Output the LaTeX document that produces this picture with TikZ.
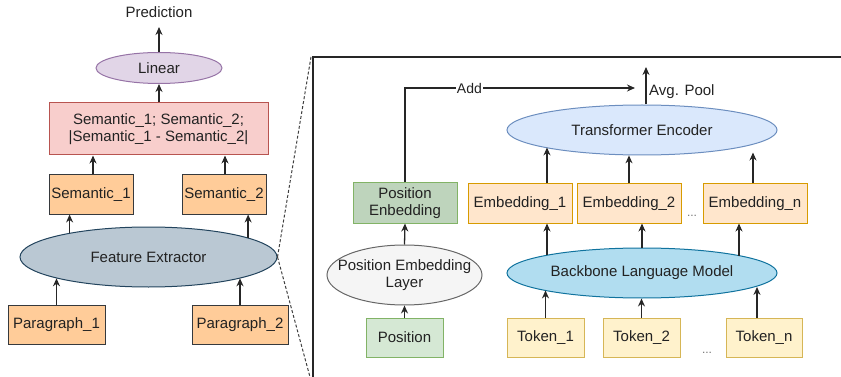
\documentclass[tikz,border=0pt]{standalone}
\usepackage{fontspec}
\setmainfont{Liberation Sans}
\usetikzlibrary{shapes.geometric,arrows.meta}
\definecolor{linF}{HTML}{E1D5E7}\definecolor{linD}{HTML}{9673A6}
\definecolor{semF}{HTML}{F8CECC}\definecolor{semD}{HTML}{B85450}
\definecolor{orF}{HTML}{FFCC99}\definecolor{orD}{HTML}{36393D}
\definecolor{feF}{HTML}{BAC8D3}\definecolor{feD}{HTML}{23445D}
\definecolor{gF}{HTML}{D5E8D4}\definecolor{gD}{HTML}{82B366}
\definecolor{gdF}{RGB}{190,212,188}
\definecolor{pelF}{HTML}{F5F5F5}\definecolor{pelD}{HTML}{666666}
\definecolor{teF}{HTML}{DAE8FC}\definecolor{teD}{HTML}{6C8EBF}
\definecolor{blmF}{HTML}{B1DDF0}\definecolor{blmD}{HTML}{10739E}
\definecolor{emF}{HTML}{FFE6CC}\definecolor{emD}{HTML}{D79B00}
\definecolor{tkF}{HTML}{FFF2CC}\definecolor{tkD}{HTML}{D6B656}
\definecolor{txt}{HTML}{222222}
\begin{document}
\begin{tikzpicture}[x=1pt,y=-1pt,
  every node/.style={font=\fontsize{15}{17}\selectfont, text=txt},
  box/.style={draw, rectangle, line width=1pt, inner sep=0pt, align=center},
  ell/.style={draw, ellipse, line width=1pt, inner sep=0pt, align=center},
  arr/.style={-{Stealth[length=8pt,width=7pt]}, line width=1.3pt, draw=black!85},
  dots/.style={font=\fontsize{12}{14}\selectfont, text=black!55, anchor=base, inner sep=0pt}]
\useasboundingbox (0,0) rectangle (841,377);

% ---------- left part ----------
\node[anchor=base, inner sep=0pt] (pred) at (159,18) {Prediction};
\node[ell, fill=linF, draw=linD, minimum width=126pt, minimum height=31pt] (lin) at (159,68) {Linear};
\node[box, fill=semF, draw=semD, minimum width=219pt, minimum height=52pt] (sem) at (158.5,129)
  {Semantic\_1; Semantic\_2;\\|Semantic\_1 - Semantic\_2|};
\node[box, fill=orF, draw=orD, minimum width=84pt, minimum height=39pt] (s1) at (91,194.5) {Semantic\_1};
\node[box, fill=orF, draw=orD, minimum width=84pt, minimum height=39pt] (s2) at (224,194.5) {Semantic\_2};
\node[ell, fill=feF, draw=feD, minimum width=257pt, minimum height=60pt] (fe) at (148.5,257) {Feature Extractor};
\node[box, fill=orF, draw=orD, minimum width=97pt, minimum height=39pt] (p1) at (56.5,324.5) {Paragraph\_1};
\node[box, fill=orF, draw=orD, minimum width=96pt, minimum height=39pt] (p2) at (240,324.5) {Paragraph\_2};

\draw[arr] (lin.north) -- ([yshift=-9pt]pred.base);
\draw[arr] (lin.south |- sem.north) -- (lin.south);
\draw[arr] ([xshift=2pt]s1.north) -- ([xshift=2pt]s1.north |- sem.south);
\draw[arr] ([xshift=1pt]s2.north) -- ([xshift=1pt]s2.north |- sem.south);
\draw[arr] (fe.163) -- (fe.163 |- s1.south);
\draw[arr] (fe.11.6) -- (fe.11.6 |- s2.south);
\draw[arr] (p1.north) -- (p1.north |- fe.193);
\draw[arr] (p2.north) -- (p2.north |- fe.347);

% zoom lines
\coordinate (zt) at (311,57);
\coordinate (zb) at (310,377);
\draw[dash pattern=on 3pt off 2pt, line width=1pt, black!75] (fe.east) -- (zt);
\draw[dash pattern=on 3pt off 2pt, line width=1pt, black!75] (fe.east) -- (zb);

% frame
\draw[line width=2.5pt, black!85] (841,57) -- (313,57) -- (313,377);

% ---------- right part ----------
\node[box, fill=gF, draw=gD, minimum width=77pt, minimum height=39pt] (pos) at (404.5,337.5) {Position};
\node[ell, fill=pelF, draw=pelD, inner xsep=-16pt, minimum width=155pt, minimum height=60pt] (pel) at (404.5,275) {Position Embedding\\Layer};
\node[box, fill=gdF, draw=gD, minimum width=104pt, minimum height=40pt] (pe) at (405,203) {Position\\Enbedding};

\node[ell, fill=teF, draw=teD, minimum width=270pt, minimum height=50pt] (te) at (642,130) {Transformer Encoder};
\node[box, fill=emF, draw=emD, minimum width=104pt, minimum height=39pt] (e1) at (520,203.5) {Embedding\_1};
\node[box, fill=emF, draw=emD, minimum width=104pt, minimum height=39pt] (e2) at (629,203.5) {Embedding\_2};
\node[box, fill=emF, draw=emD, minimum width=104pt, minimum height=39pt] (en) at (755,203.5) {Embedding\_n};
\node[ell, fill=blmF, draw=blmD, minimum width=270pt, minimum height=50pt] (blm) at (642,273) {Backbone Language Model};
\node[box, fill=tkF, draw=tkD, minimum width=77pt, minimum height=39pt] (t1) at (545.5,337.5) {Token\_1};
\node[box, fill=tkF, draw=tkD, minimum width=77pt, minimum height=39pt] (t2) at (641.5,337.5) {Token\_2};
\node[box, fill=tkF, draw=tkD, minimum width=76pt, minimum height=39pt] (tn) at (764,337.5) {Token\_n};

\node[dots] (d1) at (692,216) {...};
\node[dots] (d2) at (707,353) {...};

\draw[arr] (pos.north) -- (pel.south);
\draw[arr] (pel.north) -- (pe.south);

\coordinate (addend) at (635,88);
\draw[arr] (pe.north) |- node[pos=0.64, fill=white, inner sep=1pt, font=\fontsize{14}{16}\selectfont] {Add} (addend);

\coordinate (avg) at (646,67);
\draw[arr] (avg |- te.north) -- (avg);
\node[anchor=west, inner sep=0pt] (avgl) at (649,92) {Avg. Pool};

\draw[arr] ([xshift=27pt]e1.north) -- ([xshift=27pt]e1.north |- te.190.6);
\draw[arr] (e2.north) -- (e2.north |- te.242);
\draw[arr] ([xshift=-2pt]en.north) -- ([xshift=-2pt,yshift=3pt]en.north |- te.south);

\draw[arr] ([xshift=27pt]e1.south |- blm.169.4) -- ([xshift=27pt]e1.south);
\draw[arr] (blm.north) -- (blm.north |- e2.south);
\draw[arr] ([xshift=-16pt]en.south |- blm.10.2) -- ([xshift=-16pt]en.south);

\draw[arr] (t1.north) -- (t1.north |- blm.190.6);
\draw[arr] (t2.north) -- (t2.north |- blm.south);
\draw[arr] ([xshift=-7pt]tn.north) -- ([xshift=-7pt]tn.north |- blm.353.5);
\end{tikzpicture}
\end{document}
